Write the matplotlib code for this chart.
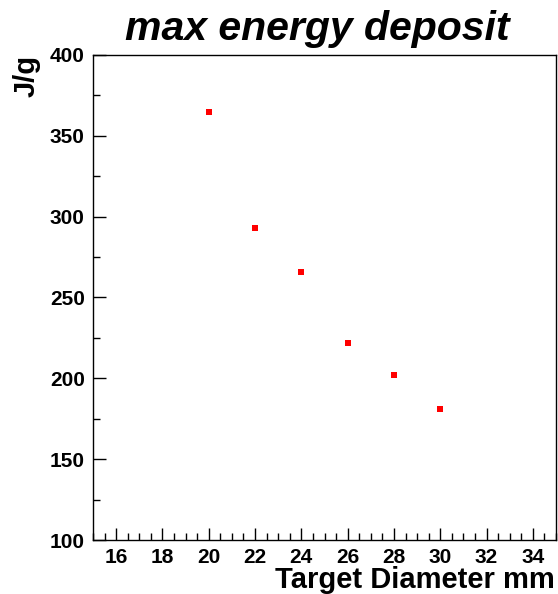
import matplotlib
matplotlib.use("Agg")
import matplotlib.pyplot as plt
from matplotlib.ticker import MultipleLocator

diameter_mm = [20, 22, 24, 26, 28, 30]
energy_jg = [365, 293, 266, 222, 202, 181]
x_ticks = [16, 18, 20, 22, 24, 26, 28, 30, 32, 34]
y_ticks = [100, 150, 200, 250, 300, 350, 400]

plt.rcParams['font.family'] = ['Liberation Sans', 'DejaVu Sans']

fig = plt.figure(figsize=(5.58, 5.94), dpi=100)
ax = fig.add_axes([93/558, 1-540/594, (556-93)/558, (540-55)/594])

ax.plot(diameter_mm, energy_jg, linestyle='none', marker='s', markersize=4.3,
        markerfacecolor='#ff0000', markeredgewidth=0)

ax.set_xlim(15, 35)
ax.set_ylim(100, 400)
ax.set_xticks(x_ticks)
ax.set_yticks(y_ticks)
ax.xaxis.set_minor_locator(MultipleLocator(0.5))
ax.yaxis.set_minor_locator(MultipleLocator(25))
ax.tick_params(which='both', direction='in', top=False, right=False,
               width=1, color='black')
ax.tick_params(which='major', length=9, labelsize=15, pad=6)
ax.tick_params(which='minor', length=5)
for lab in ax.get_xticklabels() + ax.get_yticklabels():
    lab.set_fontweight('bold')
for s in ax.spines.values():
    s.set_linewidth(1)
    s.set_color('black')

fig.text(317/558, 1-29/594, 'max energy deposit', ha='center', va='center',
         fontsize=29.5, fontweight='bold', fontstyle='italic')
fig.text(555/558, 1-580/594, 'Target Diameter mm', ha='right', va='center',
         fontsize=21, fontweight='bold')
fig.text(27/558, 1-55/594, 'J/g', ha='center', va='top', rotation=90,
         fontsize=21, fontweight='bold')

fig.savefig('out.png', dpi=100)
